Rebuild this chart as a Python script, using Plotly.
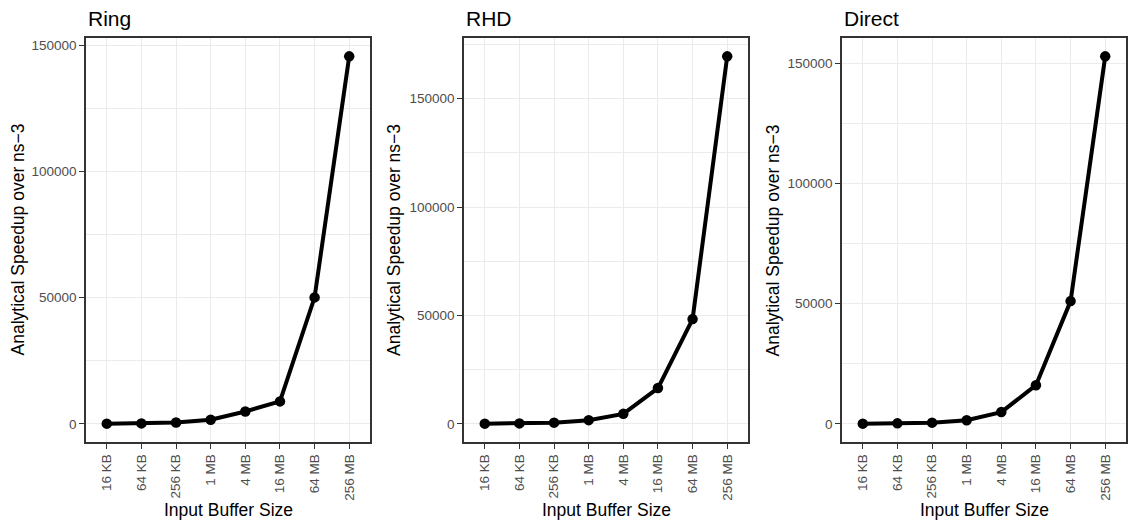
import plotly.graph_objects as go

# Buffer sizes on the x axis
buffer_sizes = ["16 KB", "64 KB", "256 KB", "1 MB", "4 MB", "16 MB", "64 MB", "256 MB"]

# Analytical speedup over ns-3 per topology
ring_speedup = [80, 180, 500, 1600, 4900, 8900, 50100, 145600]
rhd_speedup = [90, 200, 550, 1700, 4600, 16500, 48300, 169500]
direct_speedup = [90, 200, 500, 1500, 4900, 16100, 51100, 153000]

panel_titles = ["Ring", "RHD", "Direct"]
x_title = "Input Buffer Size"
y_title = "Analytical Speedup over ns\u22123"

W, H = 1133, 524
FONT = "Liberation Sans, Arial, Helvetica, sans-serif"

# panel pixel boxes (left, right), shared top/bottom
panels_px = [(86, 370), (464, 748), (842, 1126)]
top_px, bottom_px = 38, 442
ytitle_px = [17.5, 394, 772.5]

series = [ring_speedup, rhd_speedup, direct_speedup]

fig = go.Figure()
annotations = []

for i, (vals, title, (l, r)) in enumerate(zip(series, panel_titles, panels_px)):
    n = i + 1
    xa = "x" if n == 1 else f"x{n}"
    ya = "y" if n == 1 else f"y{n}"
    fig.add_trace(go.Scatter(
        x=buffer_sizes, y=vals, xaxis=xa, yaxis=ya,
        mode="lines+markers",
        line=dict(color="black", width=4),
        marker=dict(color="black", size=10.5),
        showlegend=False, hoverinfo="x+y",
    ))
    lo, hi = min(vals), max(vals)
    span = hi - lo
    yrange = [lo - 0.05 * span, hi + 0.05 * span]
    dom_x = [l / W, r / W]
    dom_y = [1 - bottom_px / H, 1 - top_px / H]
    common = dict(
        showline=True, mirror=True, linecolor="#333333", linewidth=1.5,
        ticks="outside", ticklen=5, tickwidth=1.1, tickcolor="#333333",
        showgrid=True, gridcolor="#EBEBEB", gridwidth=1.4,
        zeroline=False,
        tickfont=dict(family=FONT, size=13.5, color="#4D4D4D"),
    )
    fig.layout[("xaxis" if n == 1 else f"xaxis{n}")] = dict(
        domain=dom_x, anchor=ya, type="category",
        categoryorder="array", categoryarray=buffer_sizes,
        range=[-0.6, len(buffer_sizes) - 1 + 0.6],
        tickangle=-90, **common,
    )
    fig.layout[("yaxis" if n == 1 else f"yaxis{n}")] = dict(
        domain=dom_y, anchor=xa, range=yrange,
        tick0=0, dtick=50000, tickformat="d",
        minor=dict(showgrid=True, gridcolor="#EBEBEB", gridwidth=0.8, dtick=25000, tick0=0),
        **common,
    )
    # panel title
    annotations.append(dict(
        text=title, xref="paper", yref="paper", x=l / W, y=1 - 18 / H,
        xanchor="left", yanchor="middle", showarrow=False,
        font=dict(family=FONT, size=21, color="black"),
    ))
    # x axis title
    annotations.append(dict(
        text=x_title, xref="paper", yref="paper", x=(l + r) / 2 / W, y=1 - 510 / H,
        xanchor="center", yanchor="middle", showarrow=False,
        font=dict(family=FONT, size=17.5, color="black"),
    ))
    # y axis title
    annotations.append(dict(
        text=y_title, xref="paper", yref="paper", x=ytitle_px[i] / W,
        y=1 - (top_px + bottom_px) / 2 / H,
        xanchor="center", yanchor="middle", textangle=-90, showarrow=False,
        font=dict(family=FONT, size=17.5, color="black"),
    ))

fig.update_layout(
    width=W, height=H,
    margin=dict(l=0, r=0, t=0, b=0),
    paper_bgcolor="white", plot_bgcolor="white",
    annotations=annotations,
)

fig.write_html("out.html")
